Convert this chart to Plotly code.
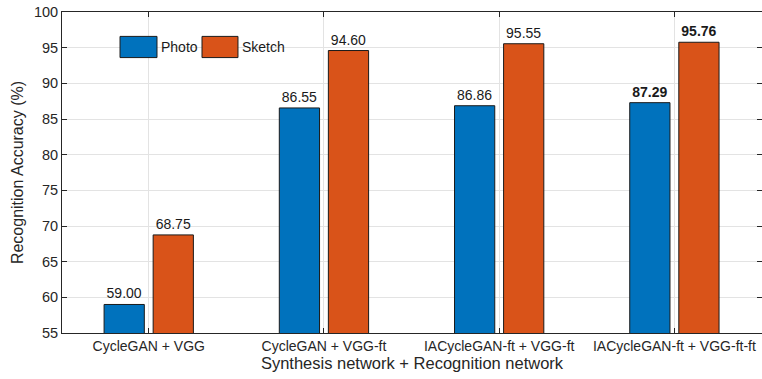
import plotly.graph_objects as go

categories = ["CycleGAN + VGG", "CycleGAN + VGG-ft", "IACycleGAN-ft + VGG-ft", "IACycleGAN-ft + VGG-ft-ft"]
photo = [59.00, 86.55, 86.86, 87.29]
sketch = [68.75, 94.60, 95.55, 95.76]
yticks = [55, 60, 65, 70, 75, 80, 85, 90, 95, 100]

blue = "#0072BD"
orange = "#D95319"

def labels(vals):
    out = []
    for i, v in enumerate(vals):
        s = f"{v:.2f}"
        out.append(f"<b>{s}</b>" if i == len(vals) - 1 else s)
    return out

fig = go.Figure()
fig.add_trace(go.Bar(x=categories, y=photo, name="Photo", marker=dict(color=blue, line=dict(color="#1a1a1a", width=1)),
                     text=labels(photo), textposition="outside", cliponaxis=False,
                     textfont=dict(size=14, color="#1a1a1a")))
fig.add_trace(go.Bar(x=categories, y=sketch, name="Sketch", marker=dict(color=orange, line=dict(color="#1a1a1a", width=1)),
                     text=labels(sketch), textposition="outside", cliponaxis=False,
                     textfont=dict(size=14, color="#1a1a1a")))

# Manual legend
for x0, x1, col, lab in [(0.0829, 0.1357, blue, "Photo"), (0.2, 0.2514, orange, "Sketch")]:
    fig.add_shape(type="rect", xref="paper", yref="paper", x0=x0, x1=x1, y0=0.858, y1=0.924,
                  fillcolor=col, line=dict(color="#1a1a1a", width=1))
    fig.add_annotation(xref="paper", yref="paper", x=x1 + 0.003, y=0.891, text=lab, showarrow=False,
                       xanchor="left", yanchor="middle", font=dict(size=14, color="#1a1a1a"))

fig.update_layout(
    width=762, height=379,
    margin=dict(l=62, r=0, t=12, b=46, autoexpand=False),
    paper_bgcolor="white", plot_bgcolor="white",
    font=dict(family="Liberation Sans, Arial, sans-serif", color="#262626"),
    barmode="group", bargap=0.44, bargroupgap=0.18,
    showlegend=False,
    xaxis=dict(range=[-0.495, 3.5], showgrid=True, gridcolor="#e3e3e3", showline=True, linecolor="#262626",
               mirror="ticks", ticks="inside", ticklen=5, tickcolor="#262626", automargin=False,
               tickfont=dict(size=14, color="#262626"),
               title=dict(text="Synthesis network + Recognition network", font=dict(size=16.5, color="#262626"), standoff=2)),
    yaxis=dict(range=[55, 100], tickvals=yticks, showgrid=True, gridcolor="#e3e3e3", showline=True, linecolor="#262626",
               mirror="ticks", ticks="inside", ticklen=5, tickcolor="#262626", automargin=False,
               tickfont=dict(size=14.5, color="#262626"),
               title=dict(text="Recognition Accuracy (%)", font=dict(size=16, color="#262626"), standoff=6)),
)

fig.write_html("out.html", config={"displayModeBar": False},
               post_script="document.body.style.margin='0';document.body.style.overflow='hidden';")
